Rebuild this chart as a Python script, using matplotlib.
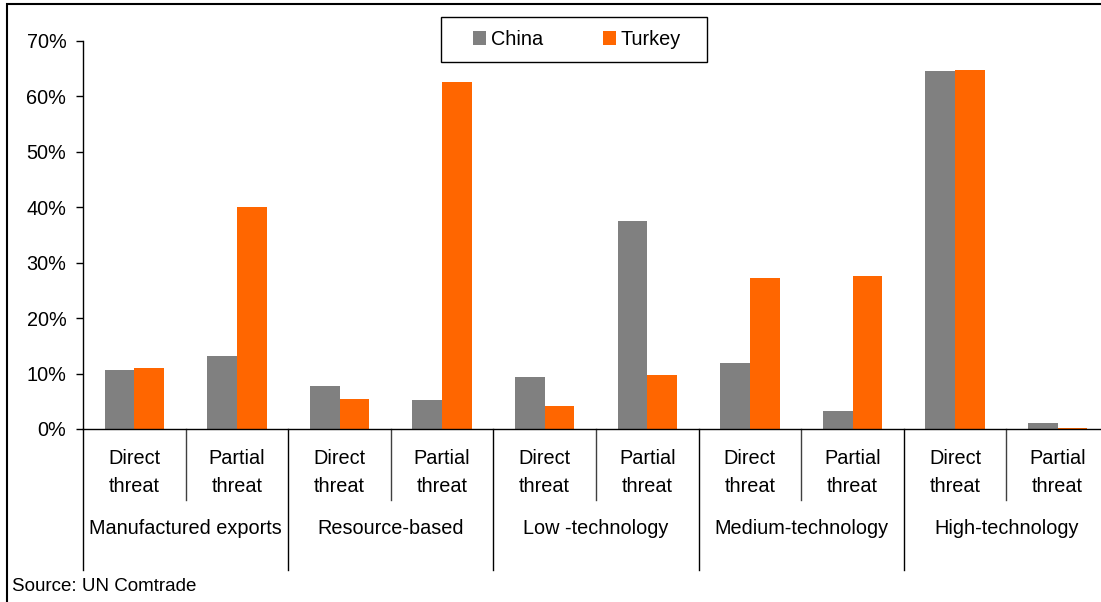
import matplotlib
matplotlib.use("Agg")
import matplotlib.pyplot as plt
from matplotlib.patches import Rectangle
from matplotlib.ticker import PercentFormatter
import numpy as np

plt.rcParams['font.family'] = ['Liberation Sans', 'DejaVu Sans']

# Data
sectors = ["Manufactured exports", "Resource-based", "Low -technology",
           "Medium-technology", "High-technology"]
threats = ["Direct\nthreat", "Partial\nthreat"]
series = ["China", "Turkey"]
china = [10.7, 13.1, 7.8, 5.2, 9.4, 37.5, 11.9, 3.3, 64.6, 1.0]
turkey = [11.0, 40.1, 5.5, 62.6, 4.2, 9.8, 27.3, 27.6, 64.7, 0.2]
colors = ["#808080", "#FF6600"]
source = "Source: UN Comtrade"

FS = 14.3
W, H = 1101, 602
fig = plt.figure(figsize=(W / 100, H / 100), dpi=100)

# axes placed in pixel terms (right edge runs past the figure border)
left, right, top, bottom = 83, 1109, 41, 429
ax = fig.add_axes([left / W, 1 - bottom / H, (right - left) / W, (bottom - top) / H])

n = len(china)
x = np.arange(n)
bw = 0.29
ax.bar(x - bw / 2, china, width=bw, color=colors[0], label=series[0])
ax.bar(x + bw / 2, turkey, width=bw, color=colors[1], label=series[1])

ax.set_xlim(-0.5, n - 0.5)
ax.set_ylim(0, 70)
ax.set_yticks(np.arange(0, 71, 10))
ax.yaxis.set_major_formatter(PercentFormatter(decimals=0))
ax.tick_params(axis='y', labelsize=FS, length=5, width=1, pad=7, colors='black')
ax.set_xticks([])
for s in ("top", "right"):
    ax.spines[s].set_visible(False)
ax.spines["left"].set_linewidth(1)
ax.spines["bottom"].set_linewidth(1)

# category labels and separators below the axis
axh = bottom - top
tr = ax.get_xaxis_transform()
for i in range(n):
    ax.text(i, -43.5 / axh, threats[i % 2], transform=tr, ha='center', va='center',
            fontsize=FS, linespacing=1.6)
for i in range(1, n):
    edge = i - 0.5
    if i % 2 == 0:
        ax.plot([edge, edge], [0, -141 / axh], transform=tr, color='black',
                lw=1, clip_on=False)
    else:
        ax.plot([edge, edge], [0, -71 / axh], transform=tr, color='#404040',
                lw=1, clip_on=False)
ax.plot([-0.5, -0.5], [0, -141 / axh], transform=tr, color='black', lw=1, clip_on=False)
ax.plot([n - 0.5, n - 0.5], [0, -141 / axh], transform=tr, color='black', lw=1, clip_on=False)
for g, name in enumerate(sectors):
    ax.text(2 * g + 0.5, -100 / axh, name, transform=tr, ha='center', va='center',
            fontsize=FS)

# legend with its own frame
leg = fig.legend(loc='center', bbox_to_anchor=(577 / W, 1 - 39.5 / H), ncol=2,
                 frameon=False, fontsize=FS, handlelength=0.65, handleheight=0.65,
                 handletextpad=0.25, columnspacing=3.0)
fig.patches.append(Rectangle((441 / W, 1 - 62 / H), (707 - 441) / W, 45 / H,
                             transform=fig.transFigure, fill=False,
                             edgecolor='black', lw=1))

# outer chart border
fig.patches.append(Rectangle((7 / W, -0.05), 1.05, 1 - 4 / H + 0.05,
                             transform=fig.transFigure, fill=False,
                             edgecolor='black', lw=1.5))

fig.text(12 / W, 1 - 586.5 / H, source, ha='left', va='center', fontsize=13.5)

fig.savefig("out.png", dpi=100)
